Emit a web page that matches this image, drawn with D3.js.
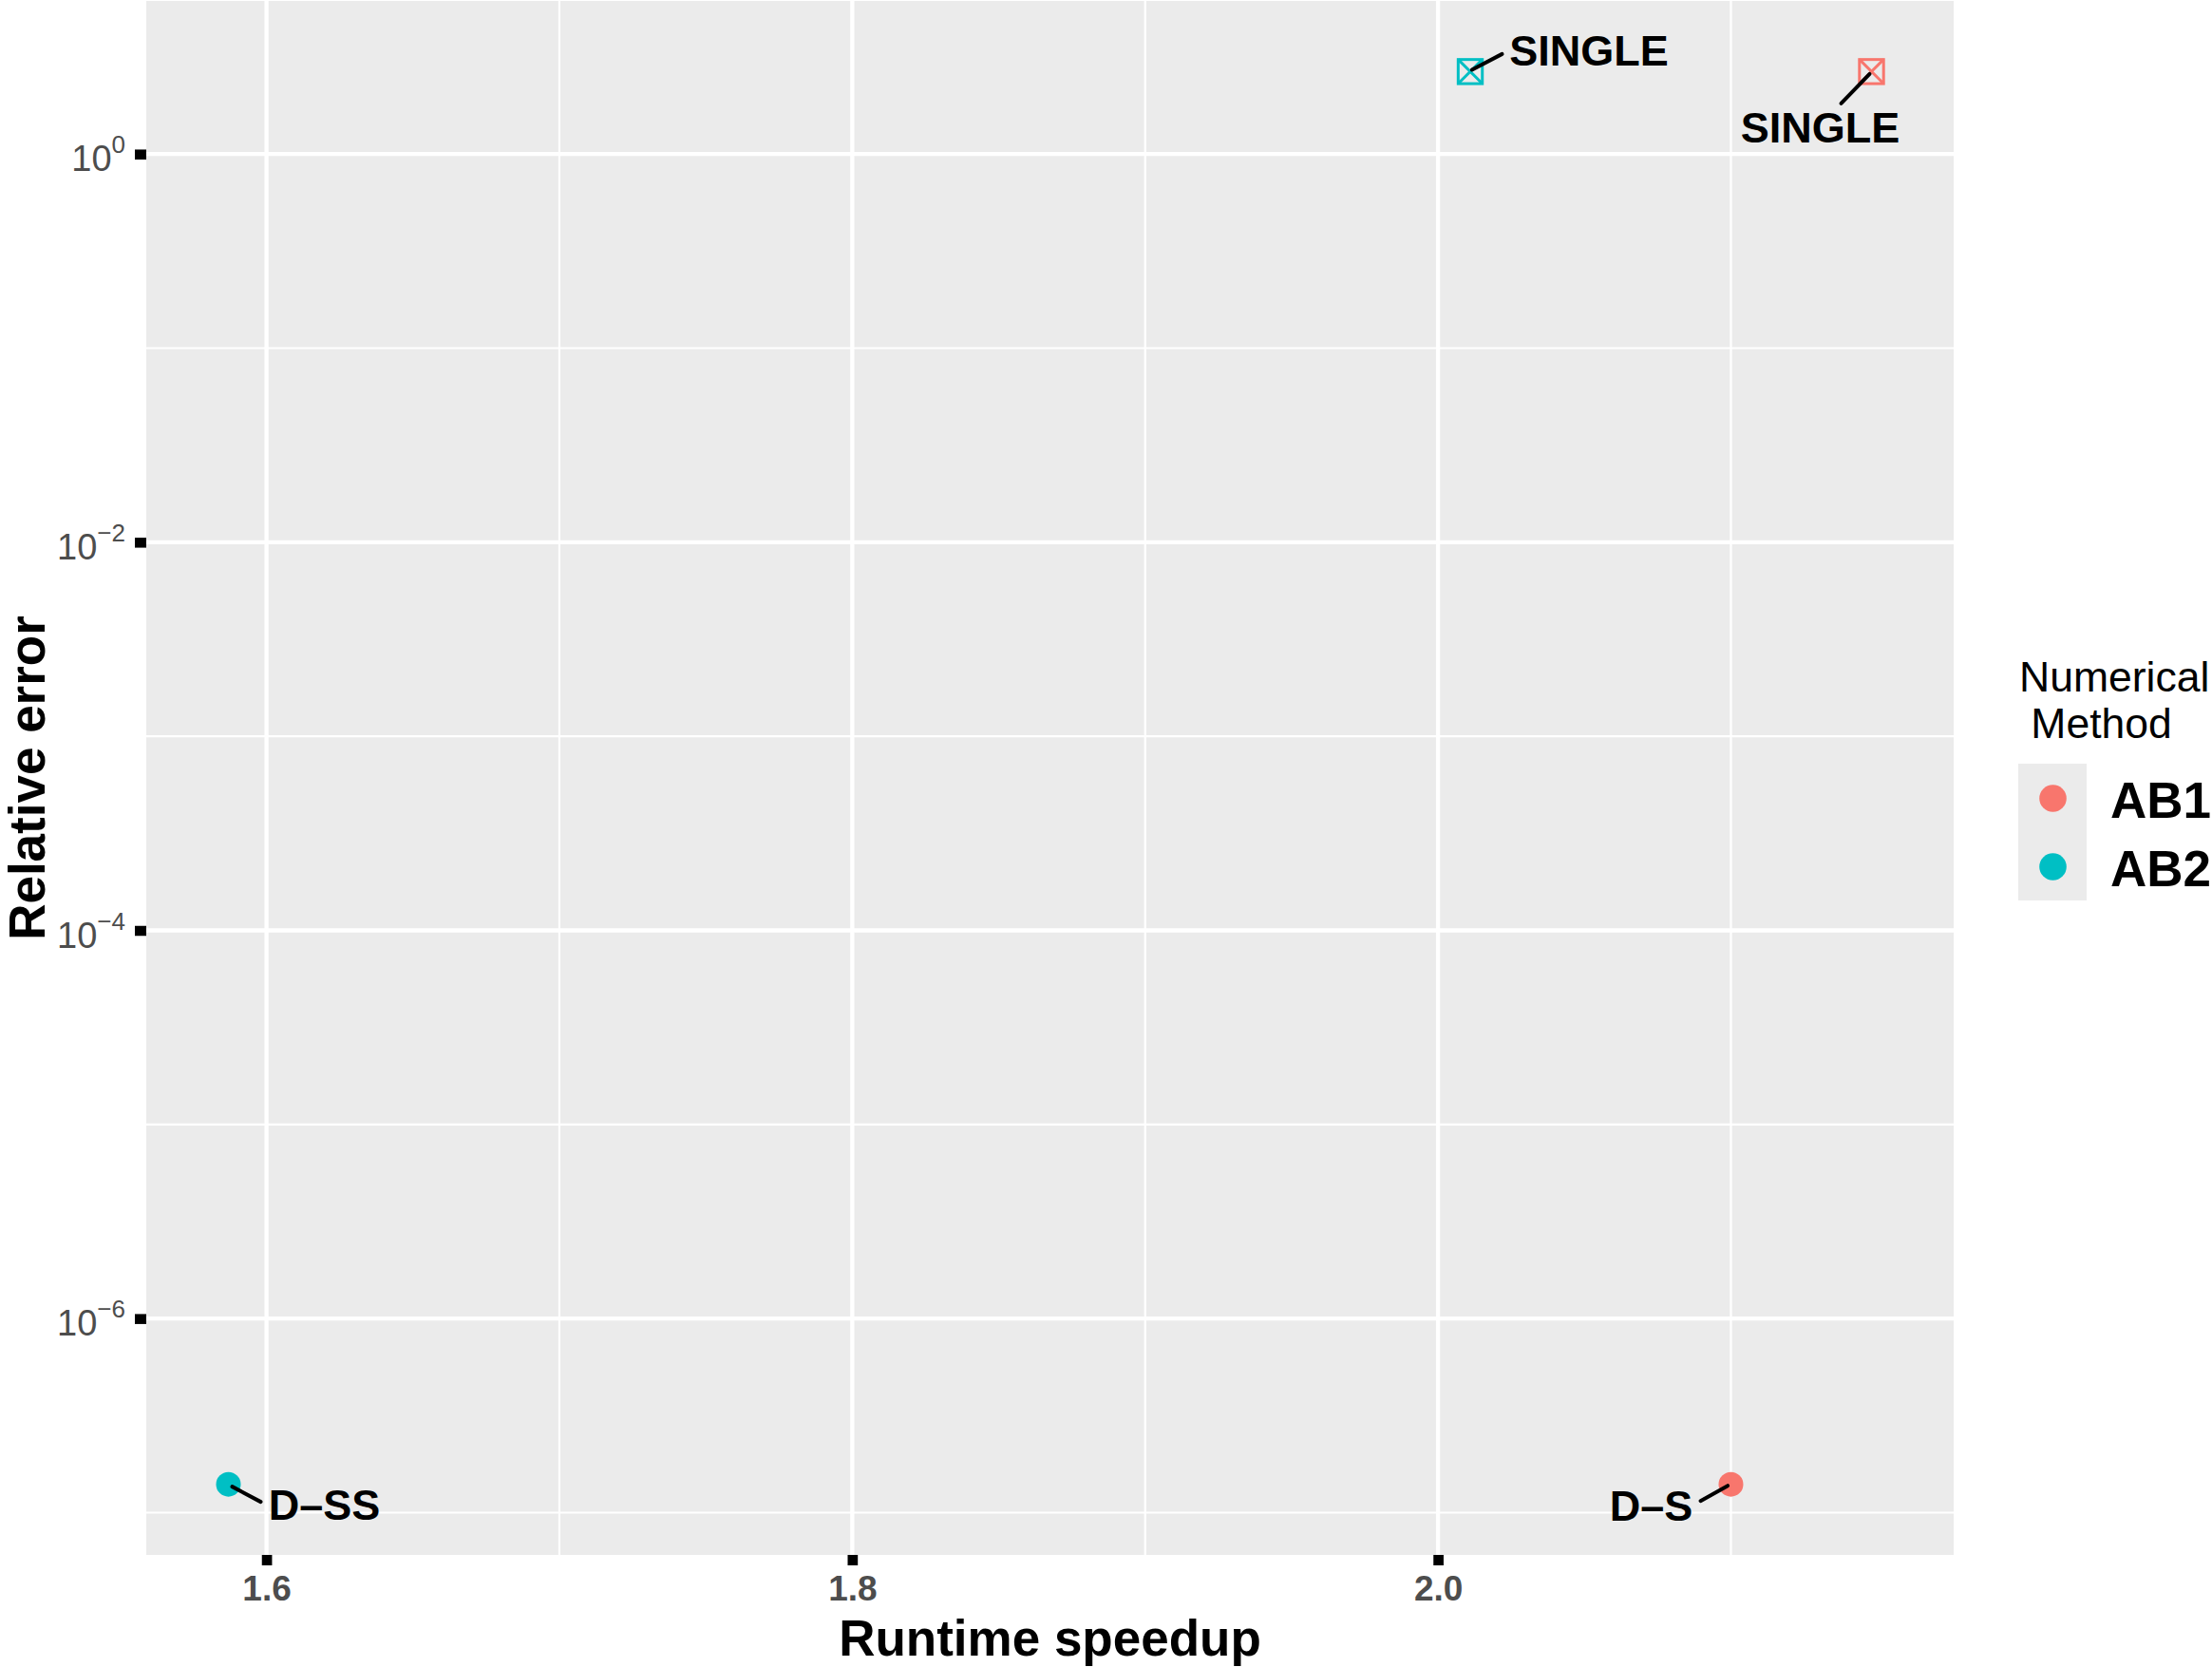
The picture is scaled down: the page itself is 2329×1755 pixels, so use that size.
<!DOCTYPE html>
<html>
<head>
<meta charset="utf-8">
<script src="https://cdn.jsdelivr.net/npm/d3@7"></script>
<style>
  html, body { margin: 0; padding: 0; background: #ffffff; }
  svg { display: block; font-family: "Liberation Sans", Arial, Helvetica, sans-serif; }
</style>
</head>
<body>
<svg id="chart" width="2329" height="1755"></svg>
<script>
// ---------------- data ----------------
const categories = ["AB1", "AB2"];
const pointMethod = ["AB1", "AB1", "AB2", "AB2"];
const pointLabel = ["D\u2013S", "SINGLE", "D\u2013SS", "SINGLE"];
const pointSpeedup = [2.100, 2.148, 1.587, 2.011];
const pointError = [1.4e-7, 2.66, 1.4e-7, 2.66];
const pointShape = ["circle", "squarecross", "circle", "squarecross"];
const xTicks = [1.6, 1.8, 2.0];
const xMinorTicks = [1.7, 1.9, 2.1];
const yTickExponents = [0, -2, -4, -6];
const yMinorExponents = [-1, -3, -5, -7];
const colors = ["#F8766D", "#00BFC4"];

// ---------------- layout (label placement, px offsets from the point) ----------------
const labelDx = [-84, -54, 101, 125];
const labelDy = [38.5, 74.5, 37.5, -6];
const segStart = [[-3.4, 1.5], [-2, 2.5], [4, 2.5], [1.8, -1.9]];
const segEnd = [[-32, 17.5], [-32, 33.5], [34, 18.5], [33.5, -18.5]];

const W = 2329, H = 1755;
const panel = { left: 154, right: 2057, top: 1, bottom: 1637 };

const svg = d3.select("#chart");
svg.append("rect").attr("width", W).attr("height", H).attr("fill", "#ffffff");

// scales with ggplot-like 5% expansion
const xExt = d3.extent(pointSpeedup);
const xPad = (xExt[1] - xExt[0]) * 0.05;
const x = d3.scaleLinear().domain([xExt[0] - xPad, xExt[1] + xPad]).range([panel.left, panel.right]);

const lExt = d3.extent(pointError.map(v => Math.log10(v)));
const lPad = (lExt[1] - lExt[0]) * 0.05;
const y = d3.scaleLog().domain([Math.pow(10, lExt[0] - lPad), Math.pow(10, lExt[1] + lPad)]).range([panel.bottom, panel.top]);

const color = d3.scaleOrdinal().domain(categories).range(colors);

// panel background
svg.append("rect")
  .attr("x", panel.left).attr("y", panel.top)
  .attr("width", panel.right - panel.left).attr("height", panel.bottom - panel.top)
  .attr("fill", "#EBEBEB");

const grid = svg.append("g");
// minor gridlines
grid.selectAll(".ymin").data(yMinorExponents).enter().append("line")
  .attr("x1", panel.left).attr("x2", panel.right)
  .attr("y1", d => y(Math.pow(10, d))).attr("y2", d => y(Math.pow(10, d)))
  .attr("stroke", "#ffffff").attr("stroke-width", 2.2);
grid.selectAll(".xmin").data(xMinorTicks).enter().append("line")
  .attr("y1", panel.top).attr("y2", panel.bottom)
  .attr("x1", d => x(d)).attr("x2", d => x(d))
  .attr("stroke", "#ffffff").attr("stroke-width", 2.2);
// major gridlines
grid.selectAll(".ymaj").data(yTickExponents).enter().append("line")
  .attr("x1", panel.left).attr("x2", panel.right)
  .attr("y1", d => y(Math.pow(10, d))).attr("y2", d => y(Math.pow(10, d)))
  .attr("stroke", "#ffffff").attr("stroke-width", 4.3);
grid.selectAll(".xmaj").data(xTicks).enter().append("line")
  .attr("y1", panel.top).attr("y2", panel.bottom)
  .attr("x1", d => x(d)).attr("x2", d => x(d))
  .attr("stroke", "#ffffff").attr("stroke-width", 4.3);

// axes (ticks)
const xAxis = d3.axisBottom(x).tickValues(xTicks).tickSize(11).tickSizeOuter(0).tickFormat(d3.format(".1f"));
const gx = svg.append("g").attr("transform", `translate(0,${panel.bottom})`).call(xAxis);
gx.select(".domain").remove();
gx.selectAll(".tick line").attr("stroke", "#000").attr("stroke-width", 10.7);
gx.selectAll(".tick text")
  .attr("y", 48).attr("dy", null)
  .attr("fill", "#4D4D4D")
  .attr("font-size", 37).attr("font-weight", "bold")
  .attr("font-family", "Liberation Sans, Arial, sans-serif");

const yAxis = d3.axisLeft(y).tickValues(yTickExponents.map(e => Math.pow(10, e))).tickSize(12).tickSizeOuter(0).tickFormat("");
const gy = svg.append("g").attr("transform", `translate(${panel.left},0)`).call(yAxis);
gy.select(".domain").remove();
gy.selectAll(".tick line").attr("stroke", "#000").attr("stroke-width", 10.5);
gy.selectAll(".tick text").remove();

// y tick labels with superscripts
const yLab = svg.append("g");
yTickExponents.forEach(e => {
  const t = yLab.append("text")
    .attr("x", 132).attr("y", y(Math.pow(10, e)) + 18)
    .attr("text-anchor", "end")
    .attr("fill", "#4D4D4D")
    .attr("font-family", "Liberation Sans, Arial, sans-serif");
  t.append("tspan").attr("font-size", 38).text("10");
  t.append("tspan").attr("font-size", 26).attr("dy", -19)
    .text(e < 0 ? "\u2212" + Math.abs(e) : String(e));
});

// axis titles
svg.append("text")
  .attr("x", (panel.left + panel.right) / 2).attr("y", 1743)
  .attr("text-anchor", "middle").attr("font-size", 53).attr("font-weight", "bold")
  .attr("fill", "#000").text("Runtime speedup");
svg.append("text")
  .attr("transform", `translate(47,${(panel.top + panel.bottom) / 2}) rotate(-90)`)
  .attr("text-anchor", "middle").attr("font-size", 53).attr("font-weight", "bold")
  .attr("fill", "#000").text("Relative error");

// points
const idx = d3.range(pointSpeedup.length);
const pts = svg.append("g");
idx.forEach(i => {
  const cx = x(pointSpeedup[i]), cy = y(pointError[i]);
  const c = color(pointMethod[i]);
  if (pointShape[i] === "circle") {
    pts.append("circle").attr("cx", cx).attr("cy", cy).attr("r", 13).attr("fill", c);
  } else {
    const h = 12.7;
    pts.append("rect").attr("x", cx - h).attr("y", cy - h).attr("width", 2 * h).attr("height", 2 * h)
      .attr("fill", "none").attr("stroke", c).attr("stroke-width", 3);
    pts.append("path")
      .attr("d", `M${cx - h},${cy - h}L${cx + h},${cy + h}M${cx - h},${cy + h}L${cx + h},${cy - h}`)
      .attr("stroke", c).attr("stroke-width", 3).attr("fill", "none");
  }
});

// labels with segments
const labs = svg.append("g");
idx.forEach(i => {
  const cx = x(pointSpeedup[i]), cy = y(pointError[i]);
  labs.append("line")
    .attr("x1", cx + segStart[i][0]).attr("y1", cy + segStart[i][1])
    .attr("x2", cx + segEnd[i][0]).attr("y2", cy + segEnd[i][1])
    .attr("stroke", "#000").attr("stroke-width", 4).attr("stroke-linecap", "round");
  labs.append("text")
    .attr("x", cx + labelDx[i]).attr("y", cy + labelDy[i])
    .attr("text-anchor", "middle").attr("font-size", 45).attr("font-weight", "bold")
    .attr("fill", "#000").text(pointLabel[i]);
});

// legend
const leg = svg.append("g");
leg.append("text").attr("x", 2126).attr("y", 728).attr("font-size", 44.5).attr("fill", "#000").text("Numerical");
leg.append("text").attr("x", 2126).attr("y", 777).attr("font-size", 44.5).attr("fill", "#000")
  .attr("xml:space", "preserve").style("white-space", "pre").text(" Method");
categories.forEach((cat, k) => {
  const top = 804 + k * 72;
  leg.append("rect").attr("x", 2125).attr("y", top).attr("width", 72).attr("height", 72).attr("fill", "#EBEBEB");
  leg.append("circle").attr("cx", 2161.5).attr("cy", top + 36.5).attr("r", 14.3).attr("fill", color(cat));
  leg.append("text").attr("x", 2222).attr("y", top + 56.5).attr("font-size", 53).attr("font-weight", "bold")
    .attr("fill", "#000").text(cat);
});
</script>
</body>
</html>
